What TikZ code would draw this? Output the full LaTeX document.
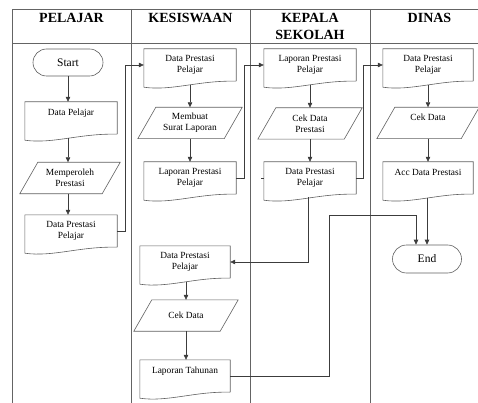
\documentclass[tikz,border=0pt]{standalone}
\usepackage{fontspec}
\setmainfont{Liberation Serif}
\usetikzlibrary{arrows.meta,calc}
\definecolor{framecol}{RGB}{100,100,100}
\definecolor{shapecol}{RGB}{95,95,95}
\definecolor{linecol}{RGB}{60,60,60}
\newcommand\docshape[1]{\draw[shp] (#1.south east) -- (#1.north east) -- (#1.north west) -- ($(#1.south west)+(0,6)$) .. controls ($(#1.south west)+(28,10)$) and ($(#1.south west)+(55,-1)$) .. (#1.south east);}
\newcommand\parashape[1]{\draw[shp] ($(#1.south west)+(-9,0)$) -- ($(#1.south east)+(-9,0)$) -- ($(#1.north east)+(9,0)$) -- ($(#1.north west)+(9,0)$) -- cycle;}
\begin{document}
\begin{tikzpicture}[x=1pt,y=-1pt,
  txt/.style={font=\fontsize{9.4}{10.8}\selectfont, align=center, inner sep=0pt},
  docnode/.style={txt, minimum width=92pt, minimum height=32pt},
  paranode/.style={txt, minimum width=86pt, minimum height=31pt},
  termnode/.style={txt, font=\fontsize{11.5}{13}\selectfont, draw=shapecol, line width=0.6pt, rounded corners=13.5pt, minimum width=70pt, minimum height=27pt},
  shp/.style={draw=shapecol, line width=0.6pt},
  arr/.style={draw=linecol, line width=0.6pt, -{Triangle[length=5pt,width=4.5pt]}},
  conn/.style={draw=linecol, line width=0.6pt},
  hdr/.style={font=\fontsize{14}{17}\selectfont\bfseries, align=center, inner sep=0pt},
  lane/.style={draw=framecol, line width=0.7pt}]
\useasboundingbox (0,0) rectangle (478,403);
\clip (0,0) rectangle (478,403);
% swimlane frame
\draw[lane] (12,420) -- (12,9) -- (500,9);
\draw[lane] (12,43) -- (500,43);
\foreach \x in {131,250,370,489} \draw[lane] (\x,9) -- (\x,420);
% headers
\node[hdr] (h1) at (71.5,18) {PELAJAR};
\node[hdr] (h2) at (190.5,18) {KESISWAAN};
\node[hdr] (h3) at (310,26.5) {KEPALA\\SEKOLAH};
\node[hdr] (h4) at (429.5,18) {DINAS};
% PELAJAR
\node[termnode] (start) at (68,62.5) {Start};
\node[docnode] (dpel) at (71,118) {Data Pelajar\\~};
\node[paranode, minimum width=82pt] (mem) at (70,178) {Memperoleh\\Prestasi};
\node[docnode] (dpp1) at (71,231) {Data Prestasi\\Pelajar};
% KESISWAAN
\node[docnode] (dpk) at (190,65) {Data Prestasi\\Pelajar};
\node[paranode] (msl) at (190,123) {Membuat\\Surat Laporan};
\node[docnode] (lpp) at (190,178) {Laporan Prestasi\\Pelajar};
\node[docnode, minimum width=90pt] (dpk2) at (185,262) {Data Prestasi\\Pelajar};
\node[paranode] (cek2) at (186,315.5) {Cek Data};
\node[docnode, minimum width=90pt] (lt) at (185,376) {Laporan Tahunan\\~};
% KEPALA SEKOLAH
\node[docnode] (lpk) at (310,65) {Laporan Prestasi\\Pelajar};
\node[paranode] (cdp) at (310,123.5) {Cek Data\\Prestasi};
\node[docnode] (dpk3) at (310,178) {Data Prestasi\\Pelajar};
% DINAS
\node[docnode, minimum width=90pt] (dpd) at (428,65) {Data Prestasi\\Pelajar};
\node[paranode, minimum width=84pt] (cd) at (428,123) {Cek Data\\~};
\node[docnode, minimum width=90pt] (acc) at (428,178) {Acc Data Prestasi\\~};
\node[termnode, minimum width=69pt, minimum height=28pt, rounded corners=14pt] (end) at (427,259) {End};
% shapes
\foreach \n in {dpel,dpp1,dpk,lpp,dpk2,lt,lpk,dpk3,dpd,acc} {\docshape{\n}}
\foreach \n in {mem,msl,cek2,cdp,cd} {\parashape{\n}}
% connectors PELAJAR
\draw[arr] (start.south) -- (start.south |- dpel.north);
\draw[arr] ([yshift=-3.5pt]dpel.south -| start.south) -- (start.south |- mem.north);
\draw[arr] (mem.south -| start.south) -- (start.south |- dpp1.north);
\draw[arr] (dpp1.east) -- ++(8,0) |- (dpk.west);
% KESISWAAN
\draw[arr] ([yshift=-3.5pt]dpk.south) -- (msl.north);
\draw[arr] (msl.south) -- (lpp.north);
\draw[arr] (lpp.east) -- ++(8,0) |- (lpk.west);
\draw[arr] ([yshift=-3.5pt]dpk2.south -| cek2.north) -- (cek2.north);
\draw[arr] (cek2.south) -- (cek2.south |- lt.north);
% KEPALA SEKOLAH
\draw[arr] ([yshift=-3.5pt]lpk.south) -- (cdp.north);
\draw[arr] (cdp.south) -- (dpk3.north);
\draw[arr] (dpk3.east) -- ++(7,0) |- (dpd.west);
\draw[conn] (dpk3.west) -- ++(-3,0);
\coordinate (b1) at ([xshift=-2pt,yshift=-3pt]dpk3.south);
\draw[arr] (b1) |- (dpk2.east);
% DINAS
\draw[arr] ([yshift=-3.5pt]dpd.south) -- (cd.north);
\draw[arr] (cd.south) -- (acc.north);
\draw[arr] ([yshift=-3.5pt]acc.south -| end.north) -- (end.north);
\coordinate (j1) at (329,215);
\draw[arr] (lt.east) -| (j1) -| ([xshift=-11pt]end.north);
\end{tikzpicture}
\end{document}
